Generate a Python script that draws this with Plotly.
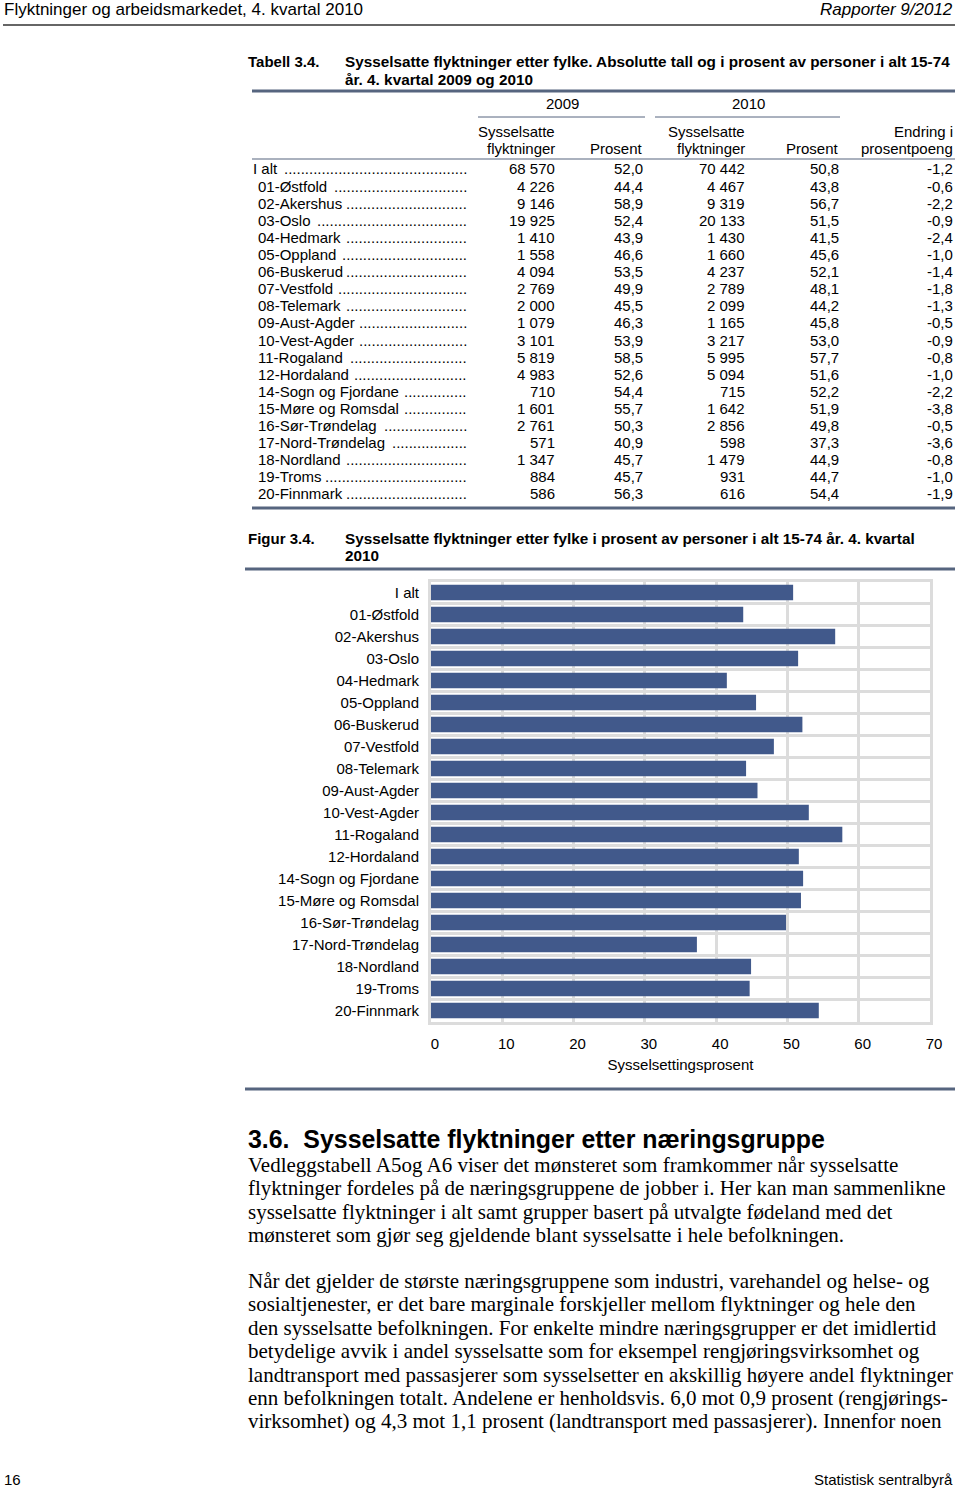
import plotly.graph_objects as go

W, H = 960, 1489

# ---------------- data ----------------
names = ["I alt", "01-Østfold", "02-Akershus", "03-Oslo", "04-Hedmark", "05-Oppland",
         "06-Buskerud", "07-Vestfold", "08-Telemark", "09-Aust-Agder", "10-Vest-Agder",
         "11-Rogaland", "12-Hordaland", "14-Sogn og Fjordane", "15-Møre og Romsdal",
         "16-Sør-Trøndelag", "17-Nord-Trøndelag", "18-Nordland", "19-Troms", "20-Finnmark"]
emp2009 = [68570, 4226, 9146, 19925, 1410, 1558, 4094, 2769, 2000, 1079, 3101, 5819, 4983,
           710, 1601, 2761, 571, 1347, 884, 586]
pct2009 = [52.0, 44.4, 58.9, 52.4, 43.9, 46.6, 53.5, 49.9, 45.5, 46.3, 53.9, 58.5, 52.6,
           54.4, 55.7, 50.3, 40.9, 45.7, 45.7, 56.3]
emp2010 = [70442, 4467, 9319, 20133, 1430, 1660, 4237, 2789, 2099, 1165, 3217, 5995, 5094,
           715, 1642, 2856, 598, 1479, 931, 616]
pct2010 = [50.8, 43.8, 56.7, 51.5, 41.5, 45.6, 52.1, 48.1, 44.2, 45.8, 53.0, 57.7, 51.6,
           52.2, 51.9, 49.8, 37.3, 44.9, 44.7, 54.4]
change = [-1.2, -0.6, -2.2, -0.9, -2.4, -1.0, -1.4, -1.8, -1.3, -0.5, -0.9, -0.8, -1.0,
          -2.2, -3.8, -0.5, -3.6, -0.8, -1.0, -1.9]
x_ticks = [0, 10, 20, 30, 40, 50, 60, 70]

para1 = ["Vedleggstabell A5og A6 viser det mønsteret som framkommer når sysselsatte",
         "flyktninger fordeles på de næringsgruppene de jobber i. Her kan man sammenlikne",
         "sysselsatte flyktninger i alt samt grupper basert på utvalgte fødeland med det",
         "mønsteret som gjør seg gjeldende blant sysselsatte i hele befolkningen."]
para2 = ["Når det gjelder de største næringsgruppene som industri, varehandel og helse- og",
         "sosialtjenester, er det bare marginale forskjeller mellom flyktninger og hele den",
         "den sysselsatte befolkningen. For enkelte mindre næringsgrupper er det imidlertid",
         "betydelige avvik i andel sysselsatte som for eksempel rengjøringsvirksomhet og",
         "landtransport med passasjerer som sysselsetter en akskillig høyere andel flyktninger",
         "enn befolkningen totalt. Andelene er henholdsvis. 6,0 mot 0,9 prosent (rengjørings-",
         "virksomhet) og 4,3 mot 1,1 prosent (landtransport med passasjerer). Innenfor noen"]

# ---------------- style ----------------
SANS = "Liberation Sans, Arial, sans-serif"
SERIF = "Liberation Serif, Times New Roman, serif"
LINE = "#56657f"
BAR = "#41598b"
GRID = "#dcdcdc"

# approximate Arial advance widths (per 1000 em) for dot leader lengths
AW = {" ": 278, "-": 333, ".": 278, "ø": 611, "æ": 889, "å": 556, "Ø": 778}
AW.update({d: 556 for d in "0123456789"})
AW.update(dict(zip("abcdefghijklmnopqrstuvwxyz",
                   [556, 556, 500, 556, 556, 278, 556, 556, 222, 222, 500, 222, 833,
                    556, 556, 556, 556, 333, 500, 278, 556, 500, 722, 500, 500, 500])))
AW.update({"A": 667, "B": 667, "F": 611, "H": 722, "I": 278, "M": 833, "N": 722,
           "O": 778, "R": 722, "S": 667, "T": 611, "V": 667})


def text_w(s, size):
    return sum(AW.get(c, 556) for c in s) * size / 1000.0


def fx(px):
    return px / W


def fy(py):
    return 1 - py / H


def fmt_int(v):
    return f"{v:,}".replace(",", " ")


def fmt_dec(v):
    return f"{v:.1f}".replace(".", ",")


fig = go.Figure()

idx = list(range(len(names)))
fig.add_trace(go.Bar(x=pct2010, y=idx, orientation="h", width=0.7,
                     marker=dict(color=BAR, line=dict(width=0)),
                     xaxis="x", yaxis="y", hoverinfo="skip", showlegend=False))
# invisible anchors for the page axis and the table row axis
fig.add_trace(go.Scatter(x=[100], y=[100], xaxis="x2", yaxis="y2", mode="markers",
                         marker=dict(opacity=0), hoverinfo="skip", showlegend=False))
fig.add_trace(go.Scatter(x=[100] * len(names), y=names, xaxis="x2", yaxis="y3", mode="markers",
                         marker=dict(opacity=0), hoverinfo="skip", showlegend=False))


def txt(x, y, s, size=15, anchor="left", family=SANS, yref="y2"):
    fig.add_annotation(x=x, y=y, xref="x2", yref=yref, text=s, showarrow=False,
                       xanchor=anchor, yanchor="middle", borderpad=0,
                       font=dict(family=family, size=size, color="black"))


def hline(x0, x1, y, w=1, c=LINE):
    fig.add_shape(type="line", xref="x2", yref="y2", x0=x0, x1=x1, y0=y, y1=y,
                  line=dict(color=c, width=w))


# header / footer
txt(3, 9, "Flyktninger og arbeidsmarkedet, 4. kvartal 2010", size=17)
txt(954, 9, "<i>Rapporter 9/2012</i>", size=17, anchor="right")
hline(3, 955, 25, w=1.5, c="#333333")
txt(3, 1479, "16", size=15)
txt(954, 1479, "Statistisk sentralbyrå", size=15, anchor="right")

# table title
txt(247, 61, "<b>Tabell 3.4.</b>", size=15)
txt(344, 61, "<b>Sysselsatte flyktninger etter fylke. Absolutte tall og i prosent av personer i alt 15-74</b>", size=15.3)
txt(344, 79, "<b>år. 4. kvartal 2009 og 2010</b>", size=15.3)
hline(252, 955, 91, w=3)

# table headers
txt(562, 103, "2009", anchor="center")
txt(748, 103, "2010", anchor="center")
hline(478, 645, 117, w=1)
hline(655, 840, 117, w=1)
col_x = [556, 644, 746, 840, 954]
txt(col_x[0], 131, "Sysselsatte", anchor="right")
txt(col_x[0], 148, "flyktninger", anchor="right")
txt(col_x[1], 148, "Prosent", anchor="right")
txt(col_x[2], 131, "Sysselsatte", anchor="right")
txt(col_x[2], 148, "flyktninger", anchor="right")
txt(col_x[3], 148, "Prosent", anchor="right")
txt(col_x[4], 131, "Endring i", anchor="right")
txt(col_x[4], 148, "prosentpoeng", anchor="right")
hline(252, 955, 159, w=1.2)
hline(252, 955, 508, w=3)

# table rows
DOT_END = 468
for i, n in enumerate(names):
    x0 = 252 if i == 0 else 257
    txt(x0, n, n, yref="y3")
    start = x0 + text_w(n, 15) + 5
    ndots = max(int((DOT_END - start) / text_w(".", 15)), 0)
    txt(DOT_END, n, "." * ndots, anchor="right", yref="y3")
    txt(col_x[0], n, fmt_int(emp2009[i]), anchor="right", yref="y3")
    txt(col_x[1], n, fmt_dec(pct2009[i]), anchor="right", yref="y3")
    txt(col_x[2], n, fmt_int(emp2010[i]), anchor="right", yref="y3")
    txt(col_x[3], n, fmt_dec(pct2010[i]), anchor="right", yref="y3")
    txt(col_x[4], n, fmt_dec(change[i]), anchor="right", yref="y3")

# figure title
txt(247, 538, "<b>Figur 3.4.</b>", size=15)
txt(344, 538, "<b>Sysselsatte flyktninger etter fylke i prosent av personer i alt 15-74 år. 4. kvartal</b>", size=15.3)
txt(344, 555, "<b>2010</b>", size=15.3)
hline(245, 955, 569, w=3)
hline(245, 955, 1089, w=3)

# section text
txt(247, 1139, "<b>3.6.\u00a0\u00a0Sysselsatte flyktninger etter næringsgruppe</b>", size=24.9)
for k, line in enumerate(para1):
    txt(247, 1165 + k * 23.4, line, size=21, family=SERIF)
for k, line in enumerate(para2):
    txt(247, 1281 + k * 23.4, line, size=21, family=SERIF)

fig.update_layout(
    width=W, height=H, margin=dict(l=0, r=0, t=0, b=0),
    paper_bgcolor="white", plot_bgcolor="rgba(0,0,0,0)",
    showlegend=False,
    xaxis=dict(domain=[fx(431), fx(930)], range=[0, 70], tickvals=x_ticks,
               showgrid=True, gridcolor=GRID, gridwidth=3, zeroline=False,
               showline=True, mirror=True, linecolor=GRID, linewidth=3,
               ticks="", ticklabelstandoff=6, ticklabelshift=4,
               tickfont=dict(family=SANS, size=15, color="black"),
               title=dict(text="Sysselsettingsprosent", standoff=9,
                          font=dict(family=SANS, size=15, color="black")),
               anchor="y", fixedrange=True, automargin=False),
    yaxis=dict(domain=[fy(1021.5), fy(581.5)], range=[19.5, -0.5],
               tickvals=idx, ticktext=names, showgrid=False, zeroline=False,
               minor=dict(tickvals=[i + 0.5 for i in range(19)], showgrid=True,
                          gridcolor=GRID, gridwidth=3, ticks=""),
               showline=True, mirror=True, linecolor=GRID, linewidth=3,
               ticks="", ticklabelstandoff=6,
               tickfont=dict(family=SANS, size=15, color="black"),
               anchor="x", fixedrange=True, automargin=False),
    xaxis2=dict(domain=[0, 1], range=[0, W], visible=False, anchor="y2", fixedrange=True),
    yaxis2=dict(domain=[0, 1], range=[H, 0], visible=False, anchor="x2", fixedrange=True),
    yaxis3=dict(domain=[fy(502.55), fy(160.45)], type="category",
                categoryorder="array", categoryarray=names, range=[19.5, -0.5],
                visible=False, anchor="x2", fixedrange=True),
)

# remove the default page margin so the figure fills the window exactly
page_css = ("document.documentElement.style.margin='0';document.body.style.margin='0';"
            "document.body.style.padding='0';document.documentElement.style.overflow='hidden';"
            "document.body.style.overflow='hidden';")
fig.write_html("out.html", post_script=page_css,
               config={"displayModeBar": False, "staticPlot": True})
